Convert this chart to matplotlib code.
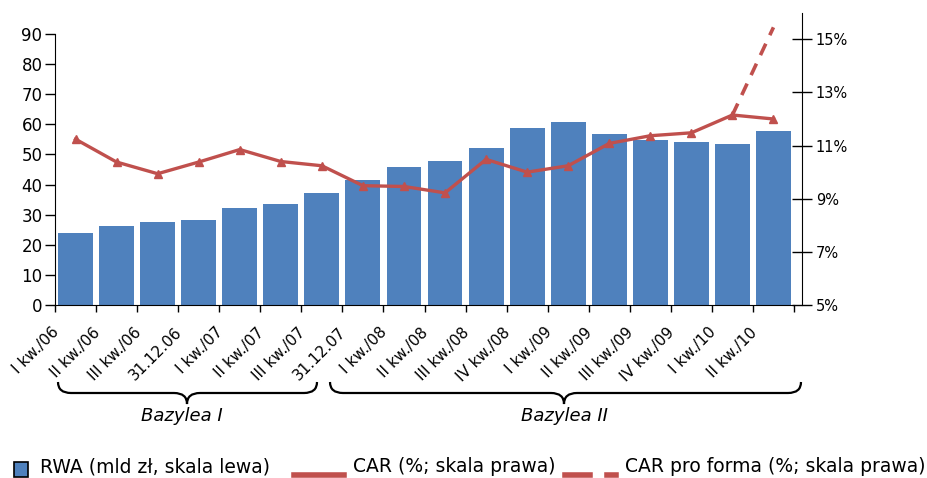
import matplotlib
matplotlib.use("Agg")
import matplotlib.pyplot as plt
import matplotlib.transforms as mtransforms
from matplotlib.path import Path
from matplotlib.patches import PathPatch, Rectangle
from matplotlib.lines import Line2D

# data
quarters = ["I kw./06", "II kw./06", "III kw./06", "31.12.06", "I kw./07", "II kw./07",
            "III kw./07", "31.12.07", "I kw./08", "II kw./08", "III kw./08", "IV kw./08",
            "I kw./09", "II kw./09", "III kw./09", "IV kw./09", "I kw./10", "II kw./10"]
rwa = [24.0, 26.3, 27.7, 28.3, 32.3, 33.4, 37.2, 41.5, 45.8, 47.8, 52.2, 58.8,
       60.8, 56.8, 54.8, 54.2, 53.5, 57.8]
car = [11.24, 10.38, 9.94, 10.38, 10.85, 10.40, 10.24, 9.49, 9.46, 9.22, 10.48, 10.0,
       10.24, 11.08, 11.37, 11.48, 12.15, 12.0]
car_pro_forma = [12.15, 15.45]   # last two quarters
left_ticks = [0, 10, 20, 30, 40, 50, 60, 70, 80, 90]
right_ticks = [5, 7, 9, 11, 13, 15]

blue = "#4F81BD"
red = "#C0504D"
W, H = 927, 478
plt.rcParams['font.family'] = ['DejaVu Sans']

fig = plt.figure(figsize=(W / 100, H / 100), dpi=100)

def fx(px):
    return px / W

def fy(py):
    return 1 - py / H

ax = fig.add_axes([fx(55), fy(305), fx(802 - 55), (305 - 12.7) / H])
ax2 = ax.twinx()

x = list(range(len(quarters)))
ax.bar(x, rwa, width=0.85, color=blue, zorder=2)
ax.set_xlim(-0.5, -0.5 + (802 - 55) / ((794 - 55) / 18))
ax.set_ylim(0, (305 - 12.7) / (271 / 90))
ax.set_yticks(left_ticks)
ax.tick_params(axis='y', direction='out', length=7, width=1, labelsize=12, pad=2)
ax.spines['left'].set_bounds(0, 90)
ax.spines['top'].set_visible(False)
ax.spines['right'].set_visible(False)
ax.spines['bottom'].set_bounds(-0.5, 17.5)

ax.set_xticks([i - 0.5 for i in range(len(quarters) + 1)])
ax.set_xticklabels([])
ax.tick_params(axis='x', direction='out', length=5, width=1)
ax.set_xticks(x, minor=True)
ax.set_xticklabels(quarters, minor=True, rotation=45, ha='right', va='center',
                   rotation_mode='anchor', fontsize=11)
ax.tick_params(axis='x', which='minor', length=0, pad=18)
shift = mtransforms.ScaledTranslation(-19 / 100, 0, fig.dpi_scale_trans)
for lab in ax.get_xticklabels(minor=True):
    lab.set_transform(lab.get_transform() + shift)

ax2.plot(x[-2:], car_pro_forma, color=red, lw=2.6, dashes=(3.5, 2.6), zorder=3)
ax2.plot(x, car, color=red, lw=2.4, marker='^', markersize=6, zorder=4)
ax2.set_ylim(5, 16)
ax2.set_yticks(right_ticks)
ax2.set_yticklabels([f"{t}%" for t in right_ticks])
ax2.tick_params(axis='y', direction='inout', length=14, width=1, labelsize=10.5, pad=3)
ax2.spines['top'].set_visible(False)
ax2.spines['left'].set_visible(False)
ax2.spines['bottom'].set_visible(False)
ax2.spines['right'].set_color('black')
ax.set_zorder(ax2.get_zorder() - 1)
ax2.patch.set_visible(False)
ax.patch.set_visible(False)

# braces under the category labels
def brace(x1, x2, xc, ytop=382, ymid=393, ytip=404, r=13):
    pts = [(x1, ytop), (x1, ymid), (x1 + r, ymid), (xc - r, ymid), (xc, ymid), (xc, ytip),
           (xc, ymid), (xc + r, ymid), (x2 - r, ymid), (x2, ymid), (x2, ytop)]
    codes = [Path.MOVETO, Path.CURVE3, Path.CURVE3, Path.LINETO, Path.CURVE3, Path.CURVE3,
             Path.CURVE3, Path.CURVE3, Path.LINETO, Path.CURVE3, Path.CURVE3]
    path = Path([(fx(a), fy(b)) for a, b in pts], codes)
    fig.add_artist(PathPatch(path, fill=False, lw=1.6, edgecolor='black',
                             transform=fig.transFigure))

brace(58, 317, 187)
brace(330, 801, 564)
fig.text(fx(182), fy(416), "Bazylea I", style='italic', fontsize=13, ha='center', va='center')
fig.text(fx(564), fy(416), "Bazylea II", style='italic', fontsize=13, ha='center', va='center')

# legend
fig.add_artist(Rectangle((fx(14), fy(477)), fx(14), 15 / H, facecolor=blue,
                         edgecolor='black', lw=1.2, transform=fig.transFigure))
fig.text(fx(40), fy(467), "RWA (mld zł, skala lewa)", fontsize=13.5, va='center')
fig.add_artist(Line2D([fx(294), fx(344)], [fy(475), fy(475)], color=red, lw=4,
                      transform=fig.transFigure))
fig.text(fx(353), fy(467), "CAR (%; skala prawa)", fontsize=13.5, va='center')
fig.add_artist(Line2D([fx(565), fx(590)], [fy(475), fy(475)], color=red, lw=4,
                      transform=fig.transFigure))
fig.add_artist(Line2D([fx(607), fx(616)], [fy(475), fy(475)], color=red, lw=4,
                      transform=fig.transFigure))
fig.text(fx(625), fy(467), "CAR pro forma (%; skala prawa)", fontsize=13.5, va='center')

fig.savefig("out.png", dpi=100)
